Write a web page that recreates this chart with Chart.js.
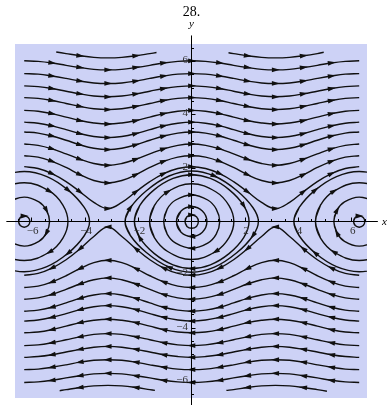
<!DOCTYPE html>
<html>
<head>
<meta charset="utf-8">
<script src="https://cdn.jsdelivr.net/npm/chart.js@4.4.1/dist/chart.umd.min.js"></script>
<style>
  html, body { margin: 0; padding: 0; background: #ffffff; }
  canvas { display: block; }
</style>
</head>
<body>
<canvas id="c" width="387" height="405"></canvas>
<script>
// Phase portrait of the pendulum x' = y, y' = -sin x, drawn as streamlines.

// shared x positions for the long (rotating) streamlines
const xGrid = [-6.28,-5.76,-5.24,-4.71,-4.19,-3.67,-3.14,-2.62,-2.09,-1.57,-1.05,-0.52,0,
               0.52,1.05,1.57,2.09,2.62,3.14,3.67,4.19,4.71,5.24,5.76,6.28];

// streamlines above the axis (flowing to the right)
const rowUpA = [6.03,6.01,5.95,5.86,5.78,5.71,5.69,5.71,5.78,5.86,5.95,6.01,6.03,6.01,5.95,5.86,5.78,5.71,5.69,5.71,5.78,5.86,5.95,6.01,6.03];
const rowUpB = [5.55,5.53,5.46,5.37,5.27,5.20,5.18,5.20,5.27,5.37,5.46,5.53,5.55,5.53,5.46,5.37,5.27,5.20,5.18,5.20,5.27,5.37,5.46,5.53,5.55];
const rowUpC = [5.09,5.06,4.99,4.89,4.79,4.71,4.68,4.71,4.79,4.89,4.99,5.06,5.09,5.06,4.99,4.89,4.79,4.71,4.68,4.71,4.79,4.89,4.99,5.06,5.09];
const rowUpD = [4.65,4.62,4.54,4.43,4.32,4.23,4.20,4.23,4.32,4.43,4.54,4.62,4.65,4.62,4.54,4.43,4.32,4.23,4.20,4.23,4.32,4.43,4.54,4.62,4.65];
const rowUpE = [4.17,4.14,4.05,3.92,3.79,3.70,3.66,3.70,3.79,3.92,4.05,4.14,4.17,4.14,4.05,3.92,3.79,3.70,3.66,3.70,3.79,3.92,4.05,4.14,4.17];
const rowUpF = [3.73,3.69,3.59,3.45,3.30,3.19,3.15,3.19,3.30,3.45,3.59,3.69,3.73,3.69,3.59,3.45,3.30,3.19,3.15,3.19,3.30,3.45,3.59,3.69,3.73];
const rowUpG = [3.36,3.32,3.21,3.05,2.88,2.75,2.70,2.75,2.88,3.05,3.21,3.32,3.36,3.32,3.21,3.05,2.88,2.75,2.70,2.75,2.88,3.05,3.21,3.32,3.36];
const rowUpH = [2.91,2.86,2.73,2.54,2.34,2.18,2.11,2.18,2.34,2.54,2.73,2.86,2.91,2.86,2.73,2.54,2.34,2.18,2.11,2.18,2.34,2.54,2.73,2.86,2.91];
const rowUpI = [2.47,2.42,2.26,2.03,1.76,1.54,1.45,1.54,1.76,2.03,2.26,2.42,2.47,2.42,2.26,2.03,1.76,1.54,1.45,1.54,1.76,2.03,2.26,2.42,2.47];
const rowUpJ = [2.06,1.99,1.80,1.50,1.12,0.72,0.49,0.72,1.12,1.50,1.80,1.99,2.06,1.99,1.80,1.50,1.12,0.72,0.49,0.72,1.12,1.50,1.80,1.99,2.06];

// streamlines below the axis (flowing to the left)
const rowDnA = [-6.03,-6.01,-5.95,-5.86,-5.78,-5.71,-5.69,-5.71,-5.78,-5.86,-5.95,-6.01,-6.03,-6.01,-5.95,-5.86,-5.78,-5.71,-5.69,-5.71,-5.78,-5.86,-5.95,-6.01,-6.03];
const rowDnB = [-5.55,-5.53,-5.46,-5.37,-5.27,-5.20,-5.18,-5.20,-5.27,-5.37,-5.46,-5.53,-5.55,-5.53,-5.46,-5.37,-5.27,-5.20,-5.18,-5.20,-5.27,-5.37,-5.46,-5.53,-5.55];
const rowDnC = [-5.09,-5.06,-4.99,-4.89,-4.79,-4.71,-4.68,-4.71,-4.79,-4.89,-4.99,-5.06,-5.09,-5.06,-4.99,-4.89,-4.79,-4.71,-4.68,-4.71,-4.79,-4.89,-4.99,-5.06,-5.09];
const rowDnD = [-4.65,-4.62,-4.54,-4.43,-4.32,-4.23,-4.20,-4.23,-4.32,-4.43,-4.54,-4.62,-4.65,-4.62,-4.54,-4.43,-4.32,-4.23,-4.20,-4.23,-4.32,-4.43,-4.54,-4.62,-4.65];
const rowDnE = [-4.17,-4.14,-4.05,-3.92,-3.79,-3.70,-3.66,-3.70,-3.79,-3.92,-4.05,-4.14,-4.17,-4.14,-4.05,-3.92,-3.79,-3.70,-3.66,-3.70,-3.79,-3.92,-4.05,-4.14,-4.17];
const rowDnF = [-3.73,-3.69,-3.59,-3.45,-3.30,-3.19,-3.15,-3.19,-3.30,-3.45,-3.59,-3.69,-3.73,-3.69,-3.59,-3.45,-3.30,-3.19,-3.15,-3.19,-3.30,-3.45,-3.59,-3.69,-3.73];
const rowDnG = [-3.36,-3.32,-3.21,-3.05,-2.88,-2.75,-2.70,-2.75,-2.88,-3.05,-3.21,-3.32,-3.36,-3.32,-3.21,-3.05,-2.88,-2.75,-2.70,-2.75,-2.88,-3.05,-3.21,-3.32,-3.36];
const rowDnH = [-2.91,-2.86,-2.73,-2.54,-2.34,-2.18,-2.11,-2.18,-2.34,-2.54,-2.73,-2.86,-2.91,-2.86,-2.73,-2.54,-2.34,-2.18,-2.11,-2.18,-2.34,-2.54,-2.73,-2.86,-2.91];
const rowDnI = [-2.47,-2.42,-2.26,-2.03,-1.76,-1.54,-1.45,-1.54,-1.76,-2.03,-2.26,-2.42,-2.47,-2.42,-2.26,-2.03,-1.76,-1.54,-1.45,-1.54,-1.76,-2.03,-2.26,-2.42,-2.47];
const rowDnJ = [-2.01,-1.94,-1.74,-1.43,-1.02,-0.56,-0.20,-0.56,-1.02,-1.43,-1.74,-1.94,-2.01,-1.94,-1.74,-1.43,-1.02,-0.56,-0.20,-0.56,-1.02,-1.43,-1.74,-1.94,-2.01];

// short streamlines along the top and bottom edges
const topLeftX  = [-5.08,-4.71,-4.19,-3.67,-3.14,-2.62,-2.09,-1.57,-1.32];
const topLeftY  = [6.36,6.30,6.22,6.16,6.14,6.16,6.22,6.30,6.34];
const topRightX = [1.38,1.57,2.09,2.62,3.14,3.67,4.19,4.71,4.95];
const topRightY = [6.33,6.30,6.22,6.16,6.14,6.16,6.22,6.30,6.35];
const botLeftX  = [-4.95,-4.71,-4.19,-3.67,-3.14,-2.62,-2.09,-1.57,-1.38];
const botLeftY  = [-6.34,-6.30,-6.22,-6.16,-6.14,-6.16,-6.22,-6.30,-6.33];
const botRightX = [1.30,1.57,2.09,2.62,3.14,3.67,4.19,4.71,5.07];
const botRightY = [-6.33,-6.30,-6.22,-6.16,-6.14,-6.16,-6.22,-6.30,-6.36];

// centres of the closed (oscillating) orbits
const centersX = [-6.28, 0, 6.28];

// closed orbits round the origin, clockwise, offsets from the centre
const loopO1X = [-0.25,-0.18,0,0.18,0.25,0.18,0,-0.18];
const loopO1Y = [0,0.18,0.25,0.18,0,-0.18,-0.25,-0.18];
const loopO2X = [-0.57,-0.40,0,0.40,0.57,0.40,0,-0.40];
const loopO2Y = [0,0.40,0.56,0.40,0,-0.40,-0.56,-0.40];
const loopO3X = [-1.05,-0.92,-0.6,0,0.6,0.92,1.05,0.92,0.6,0,-0.6,-0.92];
const loopO3Y = [0,0.47,0.81,1.0,0.81,0.47,0,-0.47,-0.81,-1.0,-0.81,-0.47];
const loopO4X = [-1.58,-1.4,-0.9,0,0.9,1.4,1.58,1.4,0.9,0,-0.9,-1.4];
const loopO4Y = [0,0.6,1.12,1.42,1.12,0.6,0,-0.6,-1.12,-1.42,-1.12,-0.6];
const loopO5X = [-2.15,-1.95,-1.4,-0.7,0,0.7,1.4,1.95,2.15,1.95,1.4,0.7,0,-0.7,-1.4,-1.95];
const loopO5Y = [0,0.6,1.2,1.62,1.76,1.62,1.2,0.6,0,-0.6,-1.2,-1.62,-1.76,-1.62,-1.2,-0.6];
const loopO6X = [-2.5,-2.3,-1.7,-0.85,0,0.85,1.7,2.3,2.5,2.3,1.7,0.85,0,-0.85,-1.7,-2.3];
const loopO6Y = [0,0.52,1.16,1.71,1.9,1.71,1.16,0.52,0,-0.52,-1.16,-1.71,-1.9,-1.71,-1.16,-0.52];

// closed orbits round x = ±2π, offsets from the centre
const loopP1X = [-0.21,-0.15,0,0.15,0.21,0.15,0,-0.15];
const loopP1Y = [0,0.15,0.21,0.15,0,-0.15,-0.21,-0.15];
const loopP2X = [-0.95,-0.83,-0.55,0,0.55,0.83,0.95,0.83,0.55,0,-0.55,-0.83];
const loopP2Y = [0,0.43,0.74,0.92,0.74,0.43,0,-0.43,-0.74,-0.92,-0.74,-0.43];
const loopP3X = [-1.64,-1.45,-0.95,0,0.95,1.45,1.64,1.45,0.95,0,-0.95,-1.45];
const loopP3Y = [0,0.62,1.14,1.46,1.14,0.62,0,-0.62,-1.14,-1.46,-1.14,-0.62];
const loopP4X = [-2.45,-2.25,-1.65,-0.85,0,0.85,1.65,2.25,2.45,2.25,1.65,0.85,0,-0.85,-1.65,-2.25];
const loopP4Y = [0,0.53,1.18,1.69,1.88,1.69,1.18,0.53,0,-0.53,-1.18,-1.69,-1.88,-1.69,-1.18,-0.53];

// axes and tick labels
const axisSpan = [-6.95, 6.98];
const tickLabelValues = [-6, -4, -2, 2, 4, 6];
const tickLabelText = ['\u22126', '\u22124', '\u22122', '2', '4', '6'];
const titleText = '28.';

const LINE = '#101010';
const PLOT_BG = '#cdd2f6';

function openLine(xs, ys, dir, arrows) {
  return {
    data: xs.map((x, i) => ({ x: x, y: ys[i] })),
    showLine: true, dir: dir, arrows: arrows
  };
}
function closedLoop(xs, ys, cx, arrows) {
  const p = xs.map((x, i) => ({ x: x + cx, y: ys[i] }));
  const n = p.length;
  // wrap one point on each side so the curve closes smoothly
  return {
    data: [p[n - 1]].concat(p, [p[0], p[1]]),
    showLine: true, dir: 1, arrows: arrows.map(i => i + 1)
  };
}

const rowArrows = [2, 4, 6, 8, 10, 12, 14, 16, 18, 20, 22];
const datasets = [];
[rowUpA, rowUpB, rowUpC, rowUpD, rowUpE, rowUpF, rowUpG, rowUpH, rowUpI, rowUpJ]
  .forEach(r => datasets.push(openLine(xGrid, r, 1, rowArrows)));
[rowDnA, rowDnB, rowDnC, rowDnD, rowDnE, rowDnF, rowDnG, rowDnH, rowDnI, rowDnJ]
  .forEach(r => datasets.push(openLine(xGrid, r, -1, rowArrows)));
datasets.push(openLine(topLeftX, topLeftY, 1, [2, 6]));
datasets.push(openLine(topRightX, topRightY, 1, [2, 6]));
datasets.push(openLine(botLeftX, botLeftY, -1, [2, 6]));
datasets.push(openLine(botRightX, botRightY, -1, [2, 6]));

const cOrigin = centersX[1];
datasets.push(closedLoop(loopO1X, loopO1Y, cOrigin, [2]));
datasets.push(closedLoop(loopO2X, loopO2Y, cOrigin, [2, 6]));
datasets.push(closedLoop(loopO3X, loopO3Y, cOrigin, [3, 9]));
datasets.push(closedLoop(loopO4X, loopO4Y, cOrigin, [2, 8]));
datasets.push(closedLoop(loopO5X, loopO5Y, cOrigin, [4, 7, 12, 15]));
datasets.push(closedLoop(loopO6X, loopO6Y, cOrigin, [1, 5, 9, 13]));
[centersX[0], centersX[2]].forEach(c => {
  datasets.push(closedLoop(loopP1X, loopP1Y, c, [2]));
  datasets.push(closedLoop(loopP2X, loopP2Y, c, [1, 5, 7, 11]));
  datasets.push(closedLoop(loopP3X, loopP3Y, c, [2, 4, 8, 10]));
  datasets.push(closedLoop(loopP4X, loopP4Y, c, [2, 6, 10, 14]));
});

// lavender plot background
const plotBackground = {
  id: 'plotBackground',
  beforeDatasetsDraw(chart) {
    const a = chart.chartArea, ctx = chart.ctx;
    ctx.save();
    ctx.fillStyle = PLOT_BG;
    ctx.fillRect(a.left, a.top, a.right - a.left, a.bottom - a.top);
    ctx.restore();
  }
};

// arrowheads placed on chosen points of each streamline
const arrowHeads = {
  id: 'arrowHeads',
  afterDatasetsDraw(chart) {
    const ctx = chart.ctx, a = chart.chartArea;
    ctx.save();
    ctx.beginPath();
    ctx.rect(a.left, a.top, a.right - a.left, a.bottom - a.top);
    ctx.clip();
    chart.data.datasets.forEach((ds, di) => {
      const pts = chart.getDatasetMeta(di).data;
      (ds.arrows || []).forEach(i => {
        const p = pts[i];
        if (!p) return;
        const q0 = pts[i - 1] || p, q1 = pts[i + 1] || p;
        let dx = (q1.x - q0.x) * ds.dir, dy = (q1.y - q0.y) * ds.dir;
        const L = Math.hypot(dx, dy) || 1;
        dx /= L; dy /= L;
        const len = 8, hw = 2.4;
        const tx = p.x + dx * len * 0.55, ty = p.y + dy * len * 0.55;
        const bx = p.x - dx * len * 0.45, by = p.y - dy * len * 0.45;
        ctx.beginPath();
        ctx.moveTo(tx, ty);
        ctx.lineTo(bx - dy * hw, by + dx * hw);
        ctx.lineTo(bx + dy * hw, by - dx * hw);
        ctx.closePath();
        ctx.fillStyle = LINE;
        ctx.fill();
      });
    });
    ctx.restore();
  }
};

// axes through the origin with ticks, tick labels, axis names and title
const centredAxes = {
  id: 'centredAxes',
  afterDraw(chart) {
    const ctx = chart.ctx, sx = chart.scales.x, sy = chart.scales.y;
    const ox = Math.floor(sx.getPixelForValue(0)) + 0.5;
    const oy = Math.floor(sy.getPixelForValue(0)) + 0.5;
    ctx.save();
    ctx.strokeStyle = '#000';
    ctx.lineWidth = 1;
    ctx.beginPath();
    ctx.moveTo(sx.getPixelForValue(axisSpan[0]), oy);
    ctx.lineTo(sx.getPixelForValue(axisSpan[1]), oy);
    ctx.moveTo(ox, sy.getPixelForValue(axisSpan[1]));
    ctx.lineTo(ox, sy.getPixelForValue(axisSpan[0]) + 10);
    ctx.stroke();

    ctx.beginPath();
    for (let v = -6.5; v <= 6.5001; v += 0.5) {
      if (Math.abs(v) < 1e-6) continue;
      const major = Math.abs(v % 2) < 1e-6;
      const len = major ? 4 : 2.5;
      const px = Math.floor(sx.getPixelForValue(v)) + 0.5;
      ctx.moveTo(px, oy);
      ctx.lineTo(px, oy - len);
      const py = Math.floor(sy.getPixelForValue(v)) + 0.5;
      ctx.moveTo(ox, py);
      ctx.lineTo(ox + len, py);
    }
    ctx.stroke();

    ctx.fillStyle = '#333';
    ctx.font = '11px "Liberation Serif", "DejaVu Serif", serif';
    tickLabelValues.forEach((v, i) => {
      const t = tickLabelText[i];
      ctx.textAlign = 'center';
      ctx.textBaseline = 'alphabetic';
      ctx.fillText(t, sx.getPixelForValue(v) + 1, oy + 12.5);
      ctx.textAlign = 'right';
      ctx.textBaseline = 'middle';
      ctx.fillText(t, ox - 3.5, sy.getPixelForValue(v) - 1.5);
    });

    ctx.fillStyle = '#000';
    ctx.font = 'italic 11px "Liberation Serif", "DejaVu Serif", serif';
    ctx.textAlign = 'center';
    ctx.textBaseline = 'alphabetic';
    ctx.fillText('y', ox, 27);
    ctx.textAlign = 'left';
    ctx.fillText('x', 382, oy + 3);

    ctx.font = '14px "Liberation Serif", "DejaVu Serif", serif';
    ctx.textAlign = 'center';
    ctx.fillText(titleText, ox, 16);
    ctx.restore();
  }
};

new Chart(document.getElementById('c'), {
  type: 'scatter',
  data: { datasets: datasets },
  options: {
    responsive: false,
    animation: false,
    events: [],
    layout: { padding: { left: 15, right: 20, top: 44, bottom: 7 } },
    plugins: {
      legend: { display: false },
      tooltip: { enabled: false },
      title: { display: false }
    },
    scales: {
      x: { type: 'linear', min: -6.626, max: 6.573, display: false },
      y: { type: 'linear', min: -6.614, max: 6.66, display: false }
    },
    elements: {
      point: { radius: 0, hoverRadius: 0 },
      line: { tension: 0.4, borderWidth: 1.4, borderColor: LINE, fill: false }
    }
  },
  plugins: [plotBackground, arrowHeads, centredAxes]
});
</script>
</body>
</html>
